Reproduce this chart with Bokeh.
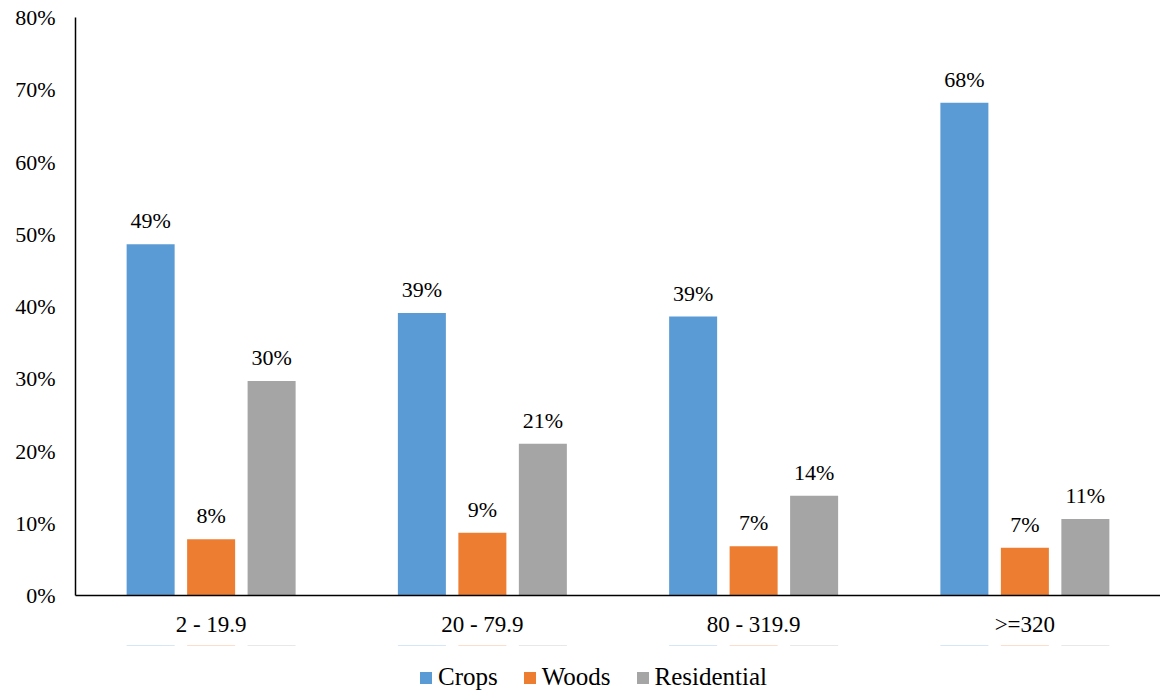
from bokeh.plotting import figure
from bokeh.layouts import column
from bokeh.models import (ColumnDataSource, FactorRange, Range1d, FixedTicker,
                          PrintfTickFormatter, LabelSet, Legend, LegendItem)
from bokeh.transform import dodge
from bokeh.embed import file_html
from bokeh.resources import INLINE

categories = ["2 - 19.9", "20 - 79.9", "80 - 319.9", ">=320"]
series = ["Crops", "Woods", "Residential"]
crops = [48.6, 39.1, 38.6, 68.2]
woods = [7.8, 8.7, 6.8, 6.6]
residential = [29.7, 21.0, 13.8, 10.6]
colors = ["#5B9BD5", "#ED7D31", "#A5A5A5"]
y_ticks = [0, 10, 20, 30, 40, 50, 60, 70, 80]

FONT = "Liberation Serif"

p = figure(frame_width=1085, frame_height=578,
           x_range=FactorRange(*categories, range_padding=0),
           y_range=Range1d(0, 80), output_backend="svg", toolbar_location=None,
           min_border_left=75, min_border_right=0, min_border_top=17, min_border_bottom=50)
p.outline_line_color = None
p.xgrid.grid_line_color = None
p.ygrid.grid_line_color = None

data = {"cat": categories, "Crops": crops, "Woods": woods, "Residential": residential}
for s in series:
    data[s + "_lbl"] = [f"{round(v)}%" for v in data[s]]
src = ColumnDataSource(data)

offsets = [-0.223, 0.0, 0.223]
for s, c, off in zip(series, colors, offsets):
    p.vbar(x=dodge("cat", off, range=p.x_range), top=s, bottom=0, width=0.177,
           source=src, fill_color=c, line_color=None)
    lbl = LabelSet(x=dodge("cat", off, range=p.x_range), y=s, text=s + "_lbl", source=src,
                   text_align="center", text_baseline="bottom", y_offset=11,
                   text_font=FONT, text_font_size="22px", text_color="#000000")
    p.add_layout(lbl)

p.yaxis.ticker = FixedTicker(ticks=y_ticks)
p.yaxis.formatter = PrintfTickFormatter(format="%d%%")
for ax in (p.xaxis, p.yaxis):
    ax.major_tick_line_color = None
    ax.minor_tick_line_color = None
    ax.major_tick_out = 0
    ax.major_tick_in = 0
    ax.axis_line_color = "#000000"
    ax.axis_line_width = 1.5
    ax.major_label_text_font = FONT
    ax.major_label_text_color = "#000000"
p.yaxis.major_label_text_font_size = "22px"
p.yaxis.major_label_standoff = 20
p.xaxis.major_label_text_font_size = "23px"
p.xaxis.major_label_standoff = 16

# Legend strip below the chart (bars kept out of its visible y range; only the legend shows)
p2 = figure(width=1160, height=50, output_backend="svg", toolbar_location=None,
            x_range=FactorRange(*categories, range_padding=0), y_range=Range1d(-10, -5),
            min_border=0)
p2.outline_line_color = None
p2.axis.visible = False
p2.grid.visible = False
items = []
for s, c, off in zip(series, colors, offsets):
    r = p2.vbar(x=dodge("cat", off, range=p2.x_range), top=s, bottom=0, width=0.177,
                source=src, fill_color=c, line_color=None)
    items.append(LegendItem(label=s, renderers=[r]))
legend = Legend(items=items, location=(343, 4), orientation="horizontal",
                border_line_color=None, background_fill_alpha=0, padding=0, margin=0,
                spacing=24, glyph_width=15, glyph_height=15, label_standoff=5,
                label_text_font=FONT, label_text_font_size="25px", label_text_color="#000000")
p2.add_layout(legend)

layout = column(p, p2, spacing=0)
open("out.html", "w").write(file_html(layout, INLINE))
